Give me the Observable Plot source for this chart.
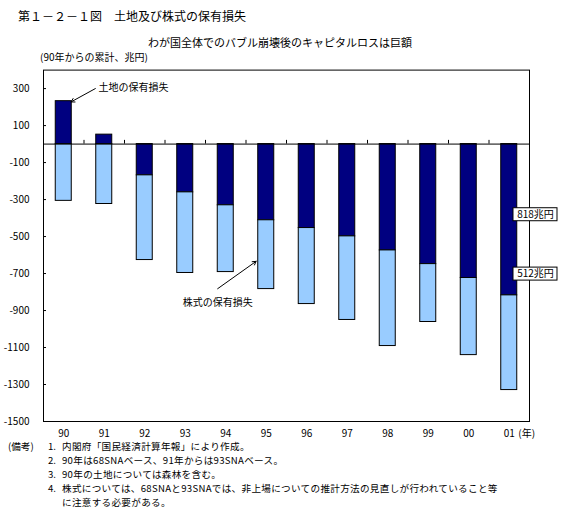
<!DOCTYPE html>
<html><head><meta charset="utf-8">
<script src="https://cdn.jsdelivr.net/npm/d3@7"></script>
<script src="https://cdn.jsdelivr.net/npm/@observablehq/plot@0.6"></script>
<style>
body{margin:0;background:#fff;font-family:"Noto Sans CJK JP","Noto Sans",sans-serif;color:#000;}
#wrap{position:relative;width:567px;height:532px;overflow:hidden;background:#fff;}
.t{position:absolute;white-space:nowrap;line-height:1;}
#notes{position:absolute;left:8px;top:439px;font-size:9.6px;line-height:14px;white-space:nowrap;}
#notes .row{display:flex;height:14px;}
#notes .h{width:40px;}
#notes .n{width:14px;}
#notes .x{letter-spacing:0.3px;}
</style></head><body>
<div id="wrap">
  <div class="t" style="left:18px;top:10px;font-size:12px">第１－２－１図　土地及び株式の保有損失</div>
  <div class="t" style="left:148px;top:37px;font-size:11px">わが国全体でのバブル崩壊後のキャピタルロスは巨額</div>
  <div class="t" style="left:40px;top:52px;font-size:10px">(90年からの累計、兆円)</div>
  <div id="chart" style="position:absolute;left:0;top:60px"></div>
  <div id="notes"></div>
</div>
<script>
const years = ["90","91","92","93","94","95","96","97","98","99","00","01"];
const land  = [232, 51, -169, -261, -331, -412, -454, -499, -575, -649, -724, -818];
const stock = [-307, -324, -458, -436, -361, -372, -411, -452, -517, -313, -417, -512];
const yTicks = [300, 100, -100, -300, -500, -700, -900, -1100, -1300, -1500];
const seriesNames = ["土地の保有損失", "株式の保有損失"];
const seriesColors = ["#000080", "#99ccff"];
const yearUnit = "(年)";
const totalLabels = [
  {text: "818兆円", x: 12.148, y: -382},
  {text: "512兆円", x: 12.148, y: -703}
];
const landCallout = [{text: "土地の保有損失", x: 1.36, y: 306}];
const stockCallout = [{text: "株式の保有損失", x: 4.30, y: -856}];
const calloutArrows = [
  {x1: 1.28, y1: 300, x2: 0.68, y2: 228},
  {x1: 4.30, y1: -782, x2: 5.25, y2: -634}
];
const notes = [
  ["(備考)", "1.", "内閣府「国民経済計算年報」により作成。"],
  ["", "2.", "90年は68SNAベース、91年からは93SNAベース。"],
  ["", "3.", "90年の土地については森林を含む。"],
  ["", "4.", "株式については、68SNAと93SNAでは、非上場についての推計方法の見直しが行われていること等"],
  ["", "", "に注意する必要がある。"]
];

const rows = [
  ...years.map((year, i) => ({i, year, series: seriesNames[0], value: land[i]})),
  ...years.map((year, i) => ({i, year, series: seriesNames[1], value: stock[i]}))
];

const font = '"Noto Sans CJK JP","Noto Sans",sans-serif';
const chart = Plot.plot({
  width: 567,
  height: 380,
  marginLeft: 43,
  marginRight: 38,
  marginTop: 9.6,
  marginBottom: 19,
  style: {fontFamily: font, fontSize: "10px", overflow: "visible", background: "transparent", color: "black"},
  x: {domain: [0, years.length], axis: null},
  y: {domain: [-1500, 400], axis: null},
  color: {domain: seriesNames, range: seriesColors},
  marks: [
    Plot.rectY(rows, {x1: "i", x2: d => d.i + 1, y: "value", fill: "series", stroke: "black", strokeWidth: 1, insetLeft: 12.25, insetRight: 12.25}),
    Plot.ruleY([0], {stroke: "black", strokeWidth: 1}),
    Plot.ruleX(d3.range(1, years.length), {x: d => d, y1: 0, y2: 20, stroke: "black"}),
    Plot.tickY(yTicks, {y: d => d, insetRight: 483, stroke: "black"}),
    Plot.frame({stroke: "black", strokeWidth: 1}),
    Plot.axisY(yTicks, {anchor: "left", tickSize: 0, tickPadding: 14, tickFormat: d => String(d), fontSize: 10}),
    Plot.axisX(years.map((_, i) => i + 0.5), {anchor: "bottom", tickSize: 0, tickPadding: 8, tickFormat: d => years[Math.floor(d)], fontSize: 10}),
    Plot.text([yearUnit], {x: () => years.length - 0.5, frameAnchor: "bottom", lineAnchor: "top", dy: 8, dx: 9, textAnchor: "start", text: d => d, fontSize: 10}),
    Plot.arrow(calloutArrows, {x1: "x1", y1: "y1", x2: "x2", y2: "y2", stroke: "black", strokeWidth: 1, headLength: 6}),
    Plot.text(landCallout, {x: "x", y: "y", text: "text", textAnchor: "start", fontSize: 10, fill: "black"}),
    Plot.text(stockCallout, {x: "x", y: "y", text: "text", textAnchor: "middle", fontSize: 10, fill: "black"}),
    Plot.rect(totalLabels, {x1: "x", x2: "x", y1: "y", y2: "y", insetLeft: -22, insetRight: -22, insetTop: -6.5, insetBottom: -6.5, fill: "white", stroke: "black", strokeWidth: 1}),
    Plot.text(totalLabels, {x: "x", y: "y", text: "text", fontSize: 10, fill: "black"})
  ]
});
document.getElementById("chart").appendChild(chart);

const notesEl = document.getElementById("notes");
for (const [h, n, t] of notes) {
  const row = document.createElement("div");
  row.className = "row";
  row.innerHTML = `<span class="h">${h}</span><span class="n">${n}</span><span class="x">${t}</span>`;
  notesEl.appendChild(row);
}
</script>
</body></html>
